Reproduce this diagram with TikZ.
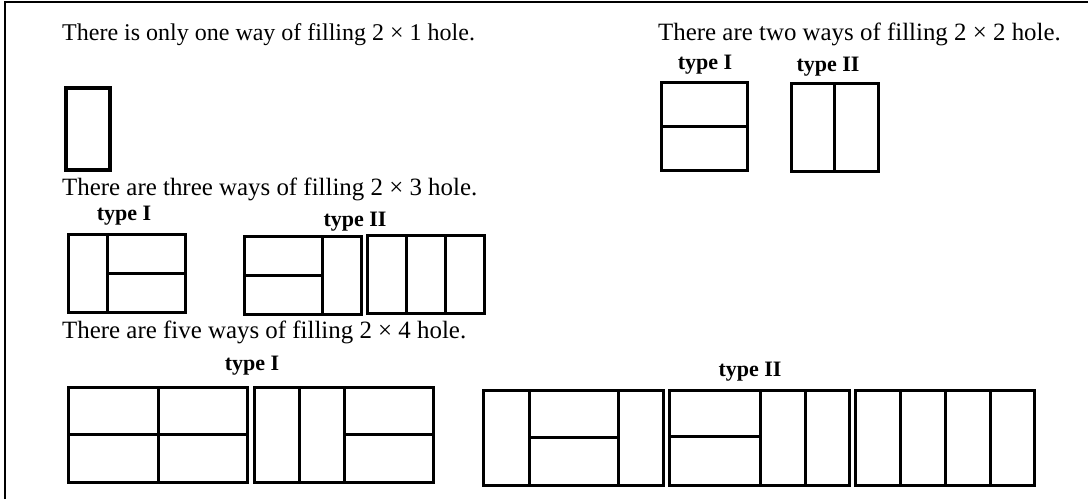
\documentclass[tikz,border=0pt]{standalone}
\usepackage{fontspec}
\setmainfont{Liberation Serif}
\begin{document}
\begin{tikzpicture}[x=1pt,y=-1pt,
  captxt/.style={anchor=base west,inner sep=0pt,font=\fontsize{24.9}{29}\selectfont},
  lbltxt/.style={anchor=base,inner sep=0pt,font=\fontsize{22}{26}\selectfont\bfseries},
  tile/.style={line width=3pt,line join=miter},
  frameline/.style={line width=2pt}]
\useasboundingbox (0,0) rectangle (1088,499);
\draw[frameline] (5,499) -- (5,2) -- (1088,2);
% captions
\node[captxt,font=\fontsize{24}{28}\selectfont] (t1) at (62,40) {There is only one way of filling 2 × 1 hole.};
\node[captxt] (t2) at (658,40) {There are two ways of filling 2 × 2 hole.};
\node[captxt] (t3) at (62,195) {There are three ways of filling 2 × 3 hole.};
\node[captxt] (t4) at (62,338) {There are five ways of filling 2 × 4 hole.};
% labels
\node[lbltxt] (l2a) at (705,69) {type I};
\node[lbltxt] (l2b) at (828,71) {type II};
\node[lbltxt] (l3a) at (124,220) {type I};
\node[lbltxt] (l3b) at (355,226) {type II};
\node[lbltxt] (l4a) at (252,370) {type I};
\node[lbltxt] (l4b) at (750,376) {type II};
% 2 x 1
\draw[tile,line width=3.5pt] (66,88) rectangle (110,170);
% 2 x 2
\draw[tile] (661,82) rectangle (747,170) (661,126) -- (747,126);
\draw[tile] (791,83) rectangle (878,171) (834,83) -- (834,171);
% 2 x 3
\draw[tile] (68,234) rectangle (185,312) (107,234) -- (107,312) (107,273) -- (185,273);
\draw[tile] (244,236) rectangle (361,314) (322,236) -- (322,314) (244,275) -- (322,275);
\draw[tile] (367,235) rectangle (484,313) (406,235) -- (406,313) (445,235) -- (445,313);
% 2 x 4
\draw[tile] (68,387) rectangle (247,482) (158,387) -- (158,482) (68,434) -- (247,434);
\draw[tile] (254,387) rectangle (433,482) (299,387) -- (299,482) (344,387) -- (344,482) (344,434) -- (433,434);
\draw[tile] (483,390) rectangle (663,485) (529,390) -- (529,485) (618,390) -- (618,485) (529,437) -- (618,437);
\draw[tile] (669,390) rectangle (849,485) (760,390) -- (760,485) (805,390) -- (805,485) (669,436) -- (760,436);
\draw[tile] (855,390) rectangle (1034,485) (900,390) -- (900,485) (945,390) -- (945,485) (990,390) -- (990,485);
\end{tikzpicture}
\end{document}
